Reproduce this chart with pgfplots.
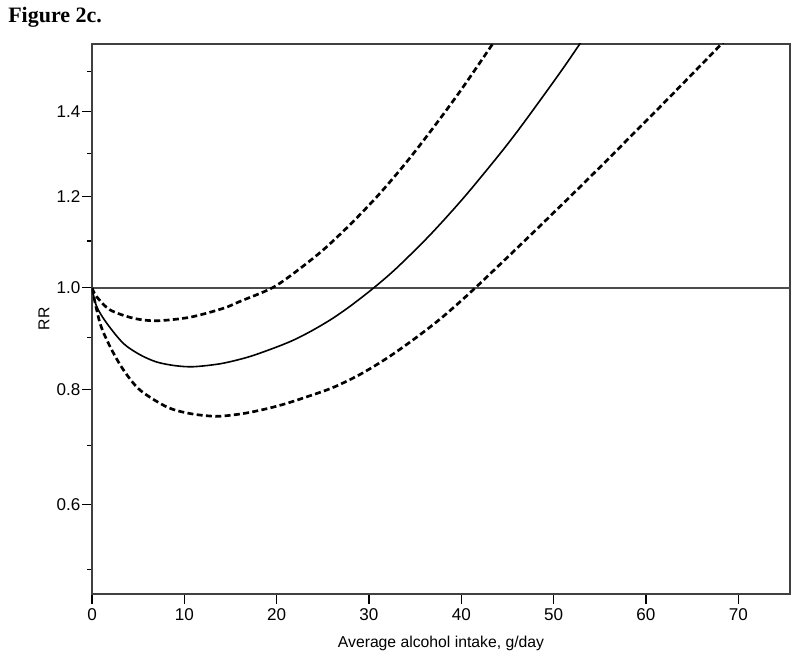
\documentclass[border=0pt]{standalone}
\usepackage{fontspec}
\setmainfont{Liberation Sans}
\newfontfamily\titlefont{Liberation Serif}
\usepackage{pgfplots}
\pgfplotsset{compat=1.18}

\begin{document}
\begin{tikzpicture}
\path[use as bounding box] (-69pt,-48.75pt) rectangle (531pt,445.5pt);
\node[anchor=base west, inner sep=0pt, font=\titlefont\bfseries\fontsize{16.5}{19}\selectfont]
  at (-63pt,428.5pt) {Figure 2c.};
\begin{axis}[
    at={(0,0)}, anchor=south west,
    scale only axis,
    width=523.5pt, height=412.5pt,
    xmin=0, xmax=75.6,
    ymin=0.465, ymax=1.5715,
    y coord trafo/.code={\pgfmathparse{sqrt(#1)}},
    y coord inv trafo/.code={\pgfmathparse{(#1)^2}},
    xtick={0,10,...,70},
    ytick={0.6,0.8,1.0,1.2,1.4},
    yticklabels={0.6,0.8,1.0,1.2,1.4},
    minor ytick={0.5,0.7,0.9,1.1,1.3,1.5},
    xtick pos=bottom, ytick pos=left,
    tick align=outside,
    major tick length=7.5pt, minor tick length=3.75pt,
    tick style={black, line width=0.8pt},
    axis line style={black!75, line width=0.8pt},
    /pgf/number format/assume math mode=true,
    ticklabel style={font=\fontsize{12.8}{14}\selectfont},
    yticklabel style={inner xsep=1pt},
    label style={font=\fontsize{11.8}{14}\selectfont},
    xlabel={Average alcohol intake, g/day},
    ylabel={RR},
    xlabel style={at={(axis description cs:0.5,-0.098)}, anchor=base},
    ylabel style={at={(axis description cs:-0.0688,0.5)}, anchor=center},
]

% reference line RR = 1
\addplot[black!70, line width=0.9pt] coordinates {(0,1) (75.6,1)};

% point estimate
\addplot[black, line width=1.2pt, smooth] coordinates {
  (0,1.000) (0.5,0.962) (1.6,0.928) (3.4,0.888) (5.2,0.866) (7,0.852)
  (9,0.845) (11,0.843) (14,0.849) (17,0.862) (20,0.881) (22,0.896)
  (24,0.915) (26,0.937) (28,0.963) (30.5,1.000) (33,1.042) (36.6,1.113)
  (40.2,1.195) (43.8,1.288) (46,1.350) (48.5,1.427) (51,1.508)
  (52.9,1.574) (54,1.613)
};

% upper confidence limit
\addplot[black, line width=2pt, dash pattern=on 4.5pt off 2.5pt, smooth] coordinates {
  (0,1.000) (0.5,0.982) (1.95,0.955) (4.5,0.938) (7,0.933) (10.6,0.940)
  (14.2,0.958) (16,0.972) (19.5,1.000) (22,1.033) (25,1.080) (28,1.137)
  (31,1.202) (34,1.277) (37,1.362) (40,1.455) (43.4,1.572) (44.5,1.613)
};

% lower confidence limit
\addplot[black, line width=2pt, dash pattern=on 4.5pt off 2.5pt, smooth] coordinates {
  (0,1.000) (0.87,0.928) (1.95,0.882) (3.4,0.837) (5.2,0.799) (8.1,0.768)
  (10.6,0.756) (13.5,0.751) (16.4,0.756) (19,0.765) (21,0.774)
  (23,0.785) (26,0.803) (29,0.828) (32,0.860) (35,0.898) (38,0.941)
  (41.5,1.000) (47.5,1.113) (52.9,1.222) (56.5,1.299) (58.3,1.339)
  (62.3,1.430) (68.2,1.572) (69,1.592)
};
\end{axis}
\end{tikzpicture}
\end{document}
